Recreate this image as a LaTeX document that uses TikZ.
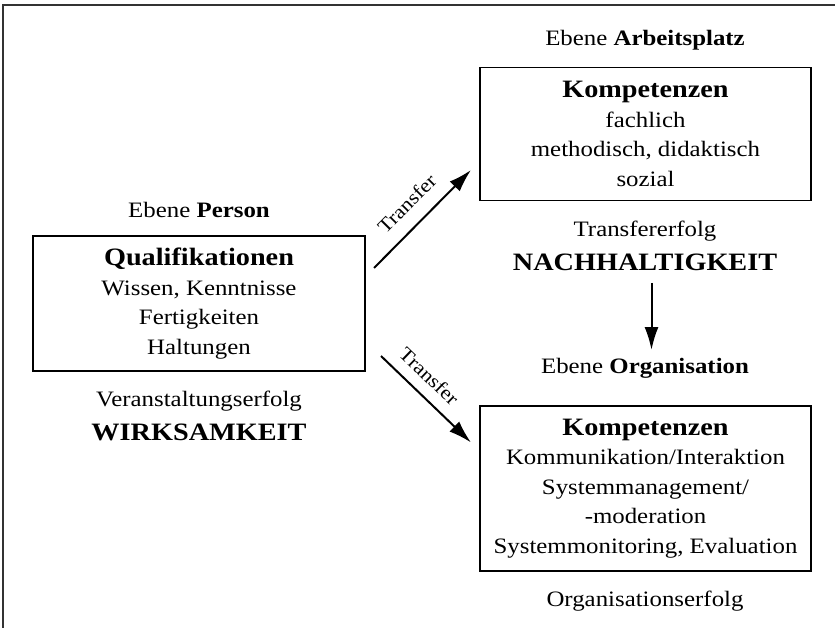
\documentclass[tikz,border=0pt]{standalone}
\usepackage{fontspec}
\setmainfont[FakeStretch=1.13]{Liberation Serif}
\usetikzlibrary{arrows.meta}
\newcommand\hdline[1]{{\fontsize{25}{29.5}\selectfont\bfseries #1}}
\begin{document}
\begin{tikzpicture}[x=1pt,y=-1pt,
  body/.style={font=\fontsize{22}{29.5}\selectfont, align=center, inner sep=0pt},
  box/.style={body, draw, line width=1.3pt},
  arr/.style={line width=2pt, -{Latex[length=23pt,width=14pt]}},
  tlabel/.style={font=\fontsize{19.5}{20}\selectfont, sloped, inner sep=0pt}]
\useasboundingbox (0,0) rectangle (835,628);
\draw[line width=2pt, color=black!80] (3,628) -- (3,5.5) -- (835,5.5);

% left column
\node[body] (ebp) at (199,210) {Ebene \textbf{Person}};
\node[box, minimum width=332pt, minimum height=135pt] (qual) at (199,303.5)
  {\hdline{Qualifikationen}\\Wissen, Kenntnisse\\Fertigkeiten\\Haltungen};
\node[body, font=\fontsize{22}{33.5}\selectfont] (wirk) at (199,416)
  {Veranstaltungserfolg\\\hdline{WIRKSAMKEIT}};

% right column
\node[body] (eba) at (645,40) {Ebene \textbf{Arbeitsplatz}};
\node[box, minimum width=331pt, minimum height=133.5pt] (komp1) at (645.5,134)
  {\hdline{Kompetenzen}\\fachlich\\methodisch, didaktisch\\sozial};
\node[body, font=\fontsize{22}{34}\selectfont] (nach) at (645,246)
  {Transfererfolg\\\hdline{NACHHALTIGKEIT}};
\node[body] (ebo) at (645,368) {Ebene \textbf{Organisation}};
\node[box, minimum width=331pt, minimum height=165pt] (komp2) at (645.5,488.5)
  {\hdline{Kompetenzen}\\Kommunikation/Interaktion\\Systemmanagement/\\-moderation\\Systemmonitoring, Evaluation};
\node[body] (orgerf) at (645,601) {Organisationserfolg};

% connectors
\coordinate (t1s) at (374,268);
\coordinate (t1e) at (471,170);
\coordinate (t2s) at (381,356);
\coordinate (t2e) at (471,442.5);
\coordinate (d1) at (651.5,283);
\coordinate (d2) at (651.5,350);
\draw[arr] (t1s) -- node[tlabel, midway, above=14pt] (tr1) {Transfer} (t1e);
\draw[arr] (t2s) -- node[tlabel, pos=0.39, above=11pt] (tr2) {Transfer} (t2e);
\draw[arr] (d1) -- (d2);
\end{tikzpicture}
\end{document}
